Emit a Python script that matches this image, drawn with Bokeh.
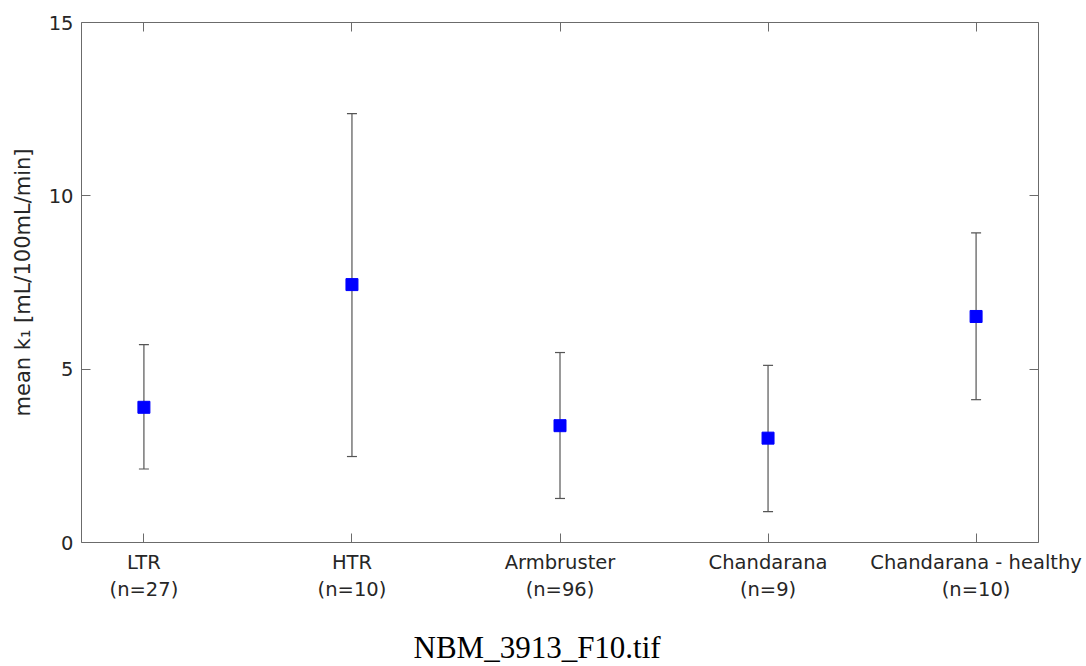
from bokeh.plotting import figure
from bokeh.models import (ColumnDataSource, Whisker, TeeHead, LinearAxis, FixedTicker,
                          Range1d, Title)
from bokeh.embed import file_html
from bokeh.resources import INLINE

categories = ["LTR", "HTR", "Armbruster", "Chandarana", "Chandarana - healthy"]
n_values = [27, 10, 96, 9, 10]
means = [3.90, 7.44, 3.37, 3.01, 6.52]
upper = [5.71, 12.37, 5.48, 5.11, 8.93]
lower = [2.12, 2.48, 1.27, 0.89, 4.12]
y_ticks = [0, 5, 10, 15]

xs = list(range(1, len(categories) + 1))
src = ColumnDataSource(dict(x=xs, mean=means, upper=upper, lower=lower))

AX = "#6b6b6b"
TXT = "#262626"
FONT = "DejaVu Sans"

p = figure(width=1086, height=666, output_backend="svg", toolbar_location=None,
           x_range=Range1d(0.7, 5.3), y_range=Range1d(0, 15),
           min_border_left=81, min_border_right=48, min_border_top=22,
           min_border_bottom=124)
p.grid.visible = False
p.outline_line_color = None
p.background_fill_color = "white"
p.border_fill_color = "white"

labels = {i: f"{c}\n(n={n})" for i, c, n in zip(xs, categories, n_values)}

for ax in [p.xaxis[0], p.yaxis[0]]:
    ax.axis_line_color = AX
    ax.major_tick_line_color = AX
    ax.minor_tick_line_color = None
    ax.major_tick_in = 9
    ax.major_tick_out = 0
    ax.major_label_text_font = FONT
    ax.major_label_text_font_size = "19.5px"
    ax.major_label_text_color = TXT
    ax.major_label_standoff = 8

p.xaxis.ticker = FixedTicker(ticks=xs)
p.xaxis.major_label_overrides = labels

p.yaxis.ticker = FixedTicker(ticks=y_ticks)
p.yaxis.axis_label = "mean k\u2081 [mL/100mL/min]"
p.yaxis.axis_label_text_font = FONT
p.yaxis.axis_label_text_font_size = "21px"
p.yaxis.axis_label_text_font_style = "normal"
p.yaxis.axis_label_text_color = TXT
p.yaxis.axis_label_standoff = 11

top = LinearAxis(ticker=FixedTicker(ticks=xs),
                 major_label_overrides={i: "" for i in xs},
                 axis_line_color=AX, major_tick_line_color=AX, minor_tick_line_color=None,
                 major_tick_in=9, major_tick_out=0, major_label_standoff=0)
right = LinearAxis(ticker=FixedTicker(ticks=y_ticks),
                   major_label_overrides={t: "" for t in y_ticks},
                   axis_line_color=AX, major_tick_line_color=AX, minor_tick_line_color=None,
                   major_tick_in=9, major_tick_out=0, major_label_standoff=0)
p.add_layout(top, "above")
p.add_layout(right, "right")

# invisible spacer below the category labels (white tick on white, empty label)
spacer = LinearAxis(ticker=FixedTicker(ticks=[xs[0]]),
                    major_label_overrides={xs[0]: ""},
                    axis_line_color="white", major_tick_line_color="white",
                    minor_tick_line_color=None,
                    major_tick_in=0, major_tick_out=22, minor_tick_out=0,
                    major_label_standoff=0)
p.add_layout(spacer, "below")

caption = Title(text="NBM_3913_F10.tif", align="left", offset=332,
                text_font="Liberation Serif", text_font_size="31px",
                text_font_style="normal", text_color="#000000", standoff=2)
p.add_layout(caption, "below")

w = Whisker(source=src, base="x", upper="upper", lower="lower",
            line_color="#555555", line_width=1.2,
            upper_head=TeeHead(size=10, line_color="#555555", line_width=1.2),
            lower_head=TeeHead(size=10, line_color="#555555", line_width=1.2))
p.add_layout(w)

p.scatter("x", "mean", source=src, marker="square", size=12,
          fill_color="#0000ff", line_color="#0000ff")

open("out.html", "w").write(file_html(p, INLINE))
